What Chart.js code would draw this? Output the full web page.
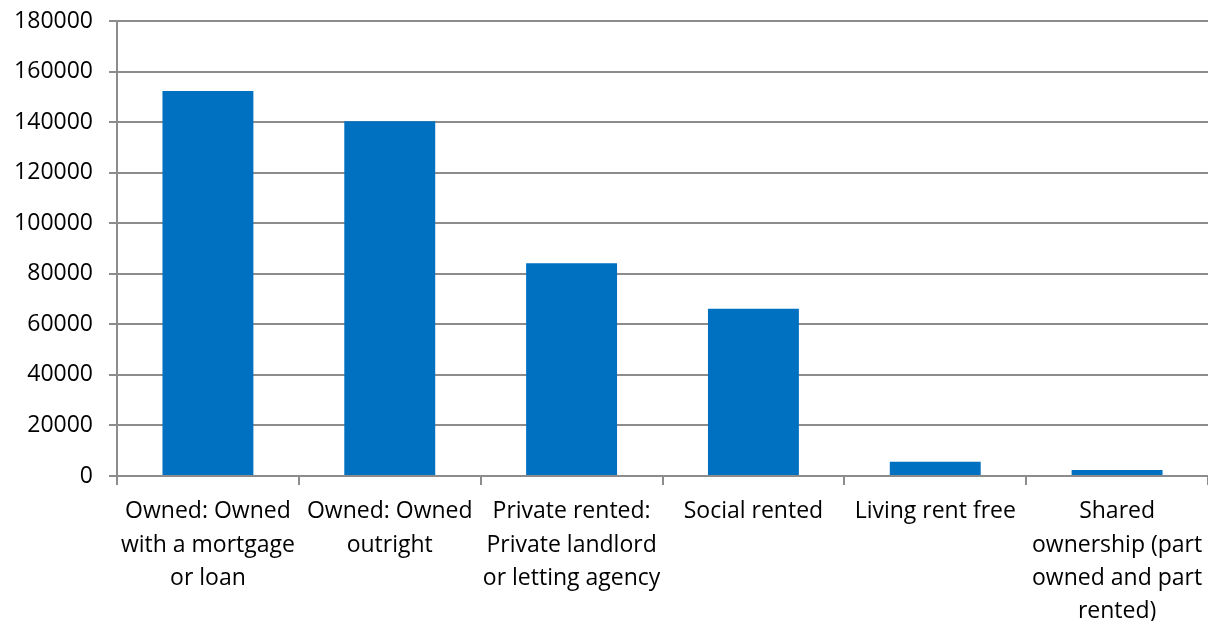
<!DOCTYPE html>
<html>
<head>
<meta charset="utf-8">
<script src="https://cdn.jsdelivr.net/npm/chart.js@4/dist/chart.umd.min.js"></script>
<style>
  html, body { margin: 0; padding: 0; background: #ffffff; }
  #wrap { width: 1208px; height: 621px; position: relative; }
</style>
</head>
<body>
<div id="wrap"><canvas id="chart"></canvas></div>
<script>
// Households by tenure
const categories = [
  ["Owned: Owned", "with a mortgage", "or loan"],
  ["Owned: Owned", "outright"],
  ["Private rented:", "Private landlord", "or letting agency"],
  ["Social rented"],
  ["Living rent free"],
  ["Shared", "ownership (part", "owned and part", "rented)"]
];
const households = [152300, 140300, 84200, 66200, 5600, 2400];
const yTicks = [0, 20000, 40000, 60000, 80000, 100000, 120000, 140000, 160000, 180000];

const gridGrey = '#8c8c8c';
const fontSpec = { family: '"Open Sans", sans-serif', size: 23 };

new Chart(document.getElementById('chart'), {
  type: 'bar',
  data: {
    labels: categories,
    datasets: [{
      data: households,
      backgroundColor: '#0070C0',
      borderWidth: 0,
      barPercentage: 0.5,
      categoryPercentage: 1.0
    }]
  },
  options: {
    responsive: true,
    maintainAspectRatio: false,
    animation: false,
    layout: { padding: { top: 21, right: 0, left: 0, bottom: 0 } },
    plugins: { legend: { display: false }, tooltip: { enabled: false } },
    scales: {
      x: {
        offset: true,
        grid: {
          offset: true,
          drawOnChartArea: false,
          drawTicks: true,
          tickLength: 9,
          color: gridGrey,
          lineWidth: 2
        },
        border: { display: true, color: gridGrey, width: 2 },
        ticks: {
          color: '#000000',
          font: { ...fontSpec, lineHeight: 1.45 },
          padding: 10,
          maxRotation: 0,
          autoSkip: false
        },
        afterFit(scale) {
          scale.height = 145;
          scale.paddingRight = 0;
        }
      },
      y: {
        min: 0,
        max: 180000,
        afterBuildTicks(scale) { scale.ticks = yTicks.map(v => ({ value: v })); },
        grid: {
          drawOnChartArea: true,
          drawTicks: true,
          tickLength: 8,
          color: gridGrey,
          lineWidth: 2
        },
        border: { display: true, color: gridGrey, width: 2 },
        ticks: {
          color: '#000000',
          font: fontSpec,
          padding: 16,
          callback: v => String(v)
        },
        afterFit(scale) {
          scale.width = 117;
          scale.paddingTop = 0;
          scale.paddingBottom = 0;
        }
      }
    }
  }
});
</script>
</body>
</html>
